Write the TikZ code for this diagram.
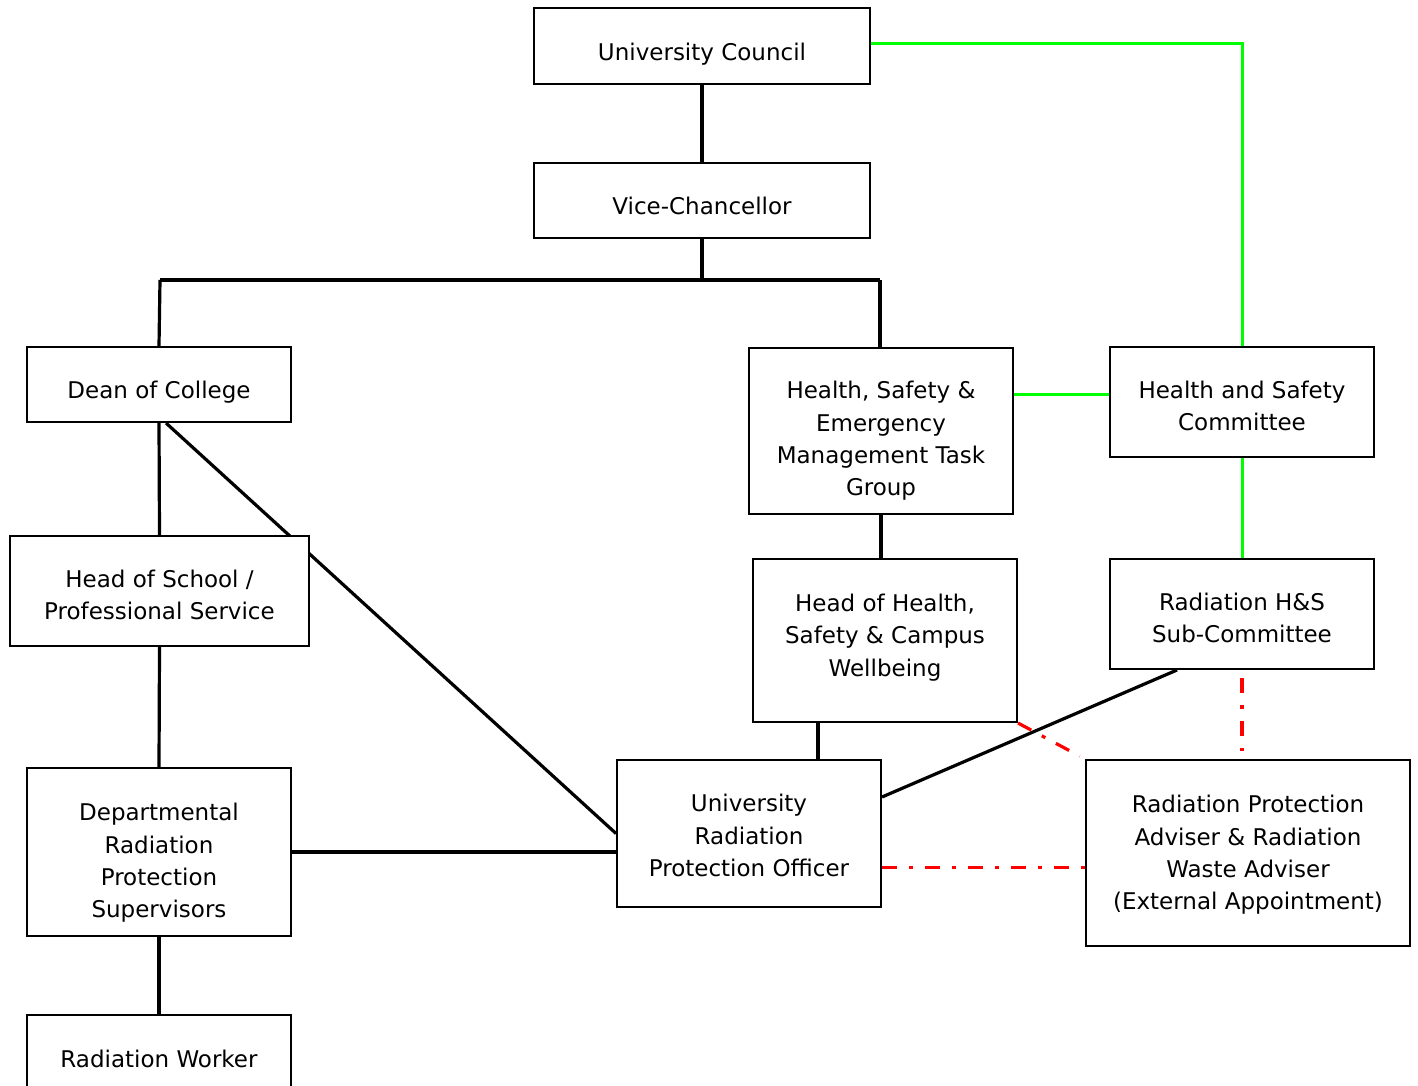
\documentclass[tikz,border=0pt]{standalone}
\usepackage{fontspec}
\setmainfont{DejaVu Sans}
\usetikzlibrary{calc,backgrounds}
\definecolor{lgreen}{RGB}{0,255,0}
\definecolor{lred}{RGB}{255,0,0}
\tikzset{
  box/.style={draw=black, line width=1pt, fill=white, inner sep=0pt, minimum width=132pt},
  btext/.style={align=center, inner sep=0pt, font=\fontsize{11.5pt}{16.2pt}\selectfont},
  conn/.style={draw=black, line width=1.6pt},
  gconn/.style={draw=lgreen, line width=1.5pt},
  rconn/.style={draw=lred, line width=1.6pt, dash pattern=on 7.5pt off 6pt on 2pt off 6pt},
}
\begin{document}
\begin{tikzpicture}[x=0.5pt,y=-0.5pt]
\useasboundingbox (0,0) rectangle (1418,1086);
\node[box, minimum width=168pt, minimum height=38pt,
  label={[btext,yshift=-4pt]center:{University Council}}] (uc) at (702,46) {};
\node[box, minimum width=168pt, minimum height=37.5pt,
  label={[btext,yshift=-2.5pt]center:{Vice-Chancellor}}] (vc) at (702,200.5) {};
\node[box, minimum height=37.5pt,
  label={[btext,yshift=-4pt]center:{Dean of College}}] (dean) at (159,384.5) {};
\node[box, minimum height=83pt,
  label={[btext,yshift=-5pt]center:{Health, Safety \&\\Emergency\\Management Task\\Group}}] (hsemtg) at (881,431) {};
\node[box, minimum height=55pt,
  label={[btext,yshift=-2pt]center:{Health and Safety\\Committee}}] (hsc) at (1242,402) {};
\node[box, minimum width=149.5pt, minimum height=55pt,
  label={[btext,yshift=-2pt]center:{Head of School /\\Professional Service}}] (hos) at (159.5,591) {};
\node[box, minimum height=81.5pt,
  label={[btext,yshift=1.5pt]center:{Head of Health,\\Safety \& Campus\\Wellbeing}}] (hoh) at (885,640.5) {};
\node[box, minimum height=55pt,
  label={[btext,yshift=-2pt]center:{Radiation H\&S\\Sub-Committee}}] (rhs) at (1242,614) {};
\node[box, minimum height=84pt,
  label={[btext,yshift=-5.5pt]center:{Departmental\\Radiation\\Protection\\Supervisors}}] (drps) at (159,852) {};
\node[box, minimum height=73.5pt,
  label={[btext,yshift=-1pt]center:{University\\Radiation\\Protection Officer}}] (urpo) at (749,833.5) {};
\node[box, minimum width=162pt, minimum height=93pt,
  label={[btext,yshift=-1pt]center:{Radiation Protection\\Adviser \& Radiation\\Waste Adviser\\(External Appointment)}}] (rpa) at (1248,853) {};
\node[box, minimum height=50pt,
  label={[btext,yshift=3pt]center:{Radiation Worker}}] (rw) at (159,1065) {};
\coordinate (barL) at (160,280);
\coordinate (barR) at (880,280);
\coordinate (barM) at (702,280);
\begin{scope}[on background layer]
\draw[conn] (uc.south) -- (vc.north);
\draw[conn] (vc.south) -- (barM);
\draw[conn] (barL) -- (barR);
\draw[conn] (barL) -- (dean.north);
\draw[conn] (barR) -- (barR |- hsemtg.north);
\draw[gconn] ($(uc.east)+(0,-2)$) -| (hsc.north);
\draw[gconn] ($(hsc.west)+(0,-8)$) coordinate (g1) -- (g1 -| hsemtg.east);
\draw[gconn] (hsc.south) -- (rhs.north);
\draw[conn] (hsemtg.south) -- (hsemtg.south |- hoh.north);
\draw[conn] (dean.south) -- (hos.north);
\draw[conn] ($(dean.south)+(7,0)$) -- (urpo.west);
\draw[conn] (hos.south) -- (drps.north);
\draw[conn] (drps.east) -- (drps.east -| urpo.west);
\draw[conn] (drps.south) -- (rw.north);
\draw[conn] ($(urpo.north)+(69,0)$) coordinate (t1) -- (t1 |- hoh.south);
\draw[conn] ($(rhs.south west)+(68,0)$) -- ($(urpo.north east)+(0,38)$);
\draw[rconn, shorten >=3pt] (hoh.south east) -- (rpa.north west);
\draw[rconn, shorten <=4pt, shorten >=4pt] (rhs.south) -- (rhs.south |- rpa.north);
\draw[rconn] ($(urpo.east)+(0,34)$) coordinate (t2) -- (t2 -| rpa.west);
\end{scope}
\end{tikzpicture}
\end{document}
